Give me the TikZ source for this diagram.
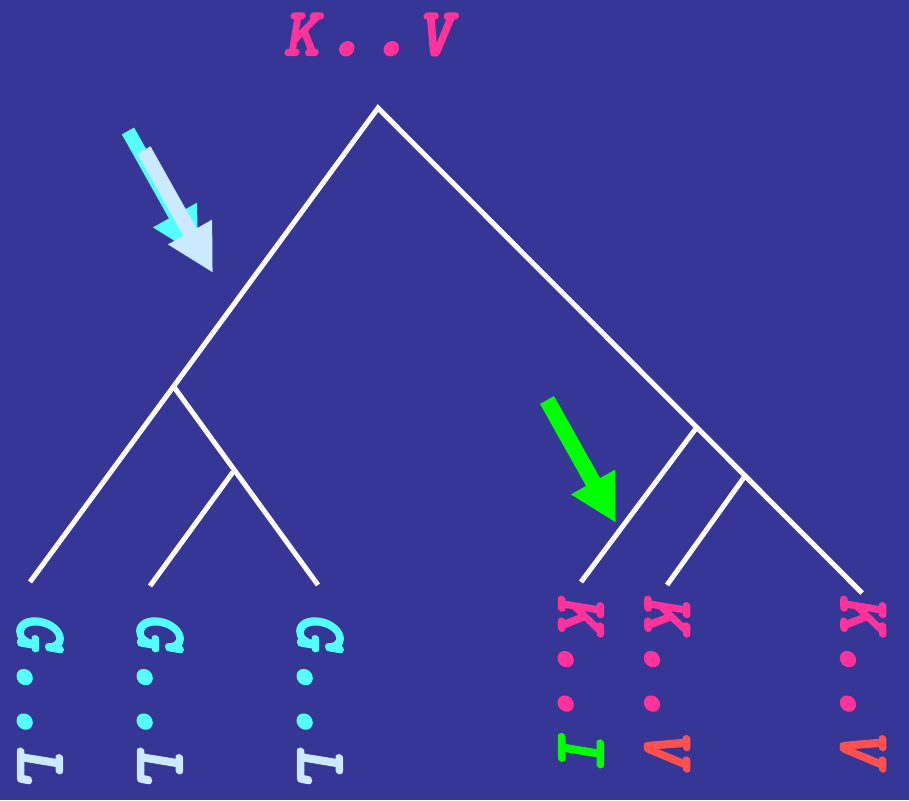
\documentclass[tikz,border=0pt]{standalone}
\usepackage{fontspec}
\usepackage{graphicx}
\newfontfamily\courf{lmmonolt10-boldoblique.otf}[FakeBold=3]
\usetikzlibrary{arrows.meta}
\definecolor{bg}{RGB}{53,54,150}
\definecolor{pk}{RGB}{255,51,153}
\definecolor{cy}{RGB}{85,255,255}
\definecolor{lb}{RGB}{204,234,255}
\definecolor{gr}{RGB}{0,255,0}
\definecolor{orr}{RGB}{255,80,80}
\newcommand{\mych}[1]{\makebox[44.5pt][c]{#1}}
\newcommand{\mydot}{\makebox[44.5pt][c]{\scalebox{1.35}{.}}}
\tikzset{
  branch/.style={draw=white,line width=5pt},
  bigarrow/.style={line width=#1, -{Triangle[length=47pt,width=47pt]}},
  toplab/.style={font=\courf\fontsize{68}{68}\selectfont, inner sep=0pt, anchor=base},
  leaflab/.style={font=\courf\fontsize{72}{72}\selectfont, inner sep=0pt, anchor=west, rotate=-90},
}
\begin{document}
\begin{tikzpicture}[x=1pt,y=-1pt]
\fill[bg] (0,0) rectangle (909,800);
\useasboundingbox (0,0) rectangle (909,800);
% tree coordinates
\coordinate (root) at (378,108);
\coordinate (l1) at (30,582);
\coordinate (r1) at (862,593);
\coordinate (ln) at (174,387);
\coordinate (l3) at (318,585);
\coordinate (lm) at (233,472);
\coordinate (l2) at (150,586);
\coordinate (rn1) at (697,427);
\coordinate (r4) at (581,582);
\coordinate (rn2) at (745,476);
\coordinate (r5) at (667,585);
\draw[branch] (l1) -- (root) -- (r1);
\draw[branch] (ln) -- (l3);
\draw[branch] (lm) -- (l2);
\draw[branch] (rn1) -- (r4);
\draw[branch] (rn2) -- (r5);
% arrows
\coordinate (ca0) at (128,131);
\coordinate (ca1) at (198,256);
\coordinate (la0) at (144,150);
\coordinate (la1) at (213,273);
\coordinate (ga0) at (547,400);
\coordinate (ga1) at (616,523);
\draw[bigarrow=14pt, cy] (ca0) -- (ca1);
\draw[bigarrow=15pt, lb] (la0) -- (la1);
\draw[bigarrow=16pt, gr] (ga0) -- (ga1);
% labels
\node[toplab, text=pk] (top) at (368,55) {\mych{K}\mydot\mydot\mych{V}};
\node[leaflab] (n1) at (40,609) {\textcolor{cy}{\mych{G}\mydot\mydot}\textcolor{lb}{\mych{L}}};
\node[leaflab] (n2) at (160,609) {\textcolor{cy}{\mych{G}\mydot\mydot}\textcolor{lb}{\mych{L}}};
\node[leaflab] (n3) at (320,609) {\textcolor{cy}{\mych{G}\mydot\mydot}\textcolor{lb}{\mych{L}}};
\node[leaflab] (n4) at (581,591) {\textcolor{pk}{\mych{K}\mydot\mydot}\textcolor{gr}{\mych{I}}};
\node[leaflab] (n5) at (667,591) {\textcolor{pk}{\mych{K}\mydot\mydot}\textcolor{orr}{\mych{V}}};
\node[leaflab] (n6) at (863,591) {\textcolor{pk}{\mych{K}\mydot\mydot}\textcolor{orr}{\mych{V}}};
\end{tikzpicture}
\end{document}
